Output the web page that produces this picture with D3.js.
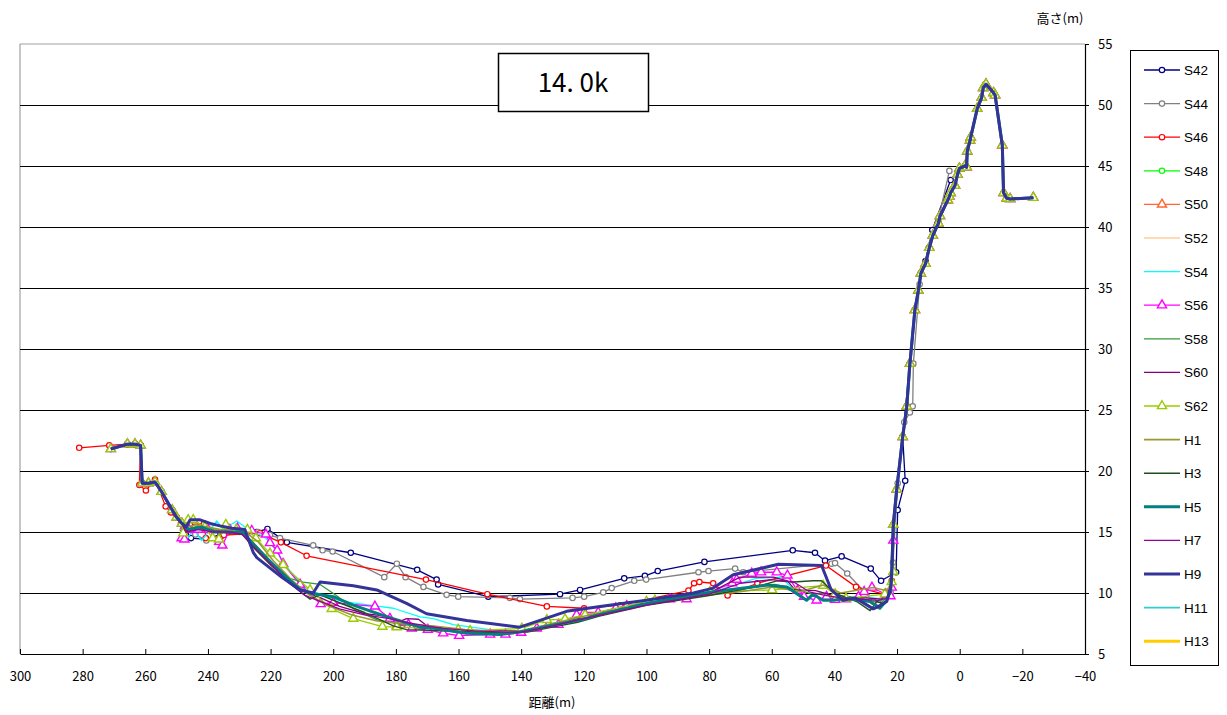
<!DOCTYPE html>
<html>
<head>
<meta charset="utf-8">
<script src="https://cdn.jsdelivr.net/npm/d3@7"></script>
<style>
  body { margin: 0; background: #fff; }
  svg { display: block; }
</style>
</head>
<body>
<svg id="chart" width="1227" height="715"></svg>
<script>
// Cross-section survey profiles at 14.0k: [distance (m), elevation (m)]

// Shared left-bank survey points (271 m → 248 m)
const leftBank = [[271.0,21.8],[265.7,22.2],[263.3,22.2],[261.5,22.1],[261.0,19.0],[259.0,19.0],[256.9,19.1],[254.8,18.3],[251.4,16.8],[250.0,16.2],[248.3,15.7]];

// Shared right-bank / levee survey points (toe → crest → landside)
const rightBank = [[21.2,15.6],[20.1,18.5],[18.2,22.8],[16.9,25.3],[15.9,28.8],[14.3,33.2],[13.2,34.8],[12.4,36.2],[10.9,37.0],[9.7,38.3],[8.6,39.3],[6.8,40.3],[6.3,40.9],[3.8,42.2],[3.3,42.5],[2.9,42.8],[1.5,43.4],[0.7,44.3],[0.1,44.8],[-1.7,45.0],[-2.2,44.9],[-2.4,46.2],[-3.3,47.1],[-3.5,47.35],[-5.6,49.7],[-7.0,50.6],[-7.5,51.4],[-8.4,51.7],[-10.8,51.0],[-11.3,50.8],[-13.6,46.7],[-14.0,42.8],[-15.0,42.35],[-16.1,42.3],[-23.5,42.4]];

const s42 = [[245.4,14.5],[240.5,14.4],[236.0,14.8],[229.0,15.0],[224.5,15.0],[221.0,15.25],[214.8,14.15],[194.4,13.3],[173.2,11.9],[167.0,11.1],[166.5,10.7],[150.5,9.7],[127.6,9.9],[121.2,10.25],[107.1,11.2],[100.5,11.4],[96.4,11.8],[81.5,12.55],[53.3,13.5],[46.2,13.3],[43.0,12.65],[37.7,13.0],[28.4,12.0],[25.1,11.0],[20.3,11.7],[19.8,16.8],[17.4,19.2],[18.2,22.8],[15.9,28.8],[14.3,33.2],[12.4,36.2],[10.9,37.2],[8.75,39.75],[2.9,43.85],[0.1,44.8]];

const s44 = [[248.0,15.2],[244.0,14.8],[240.5,14.3],[236.0,14.6],[230.0,15.0],[224.0,15.0],[220.2,14.75],[217.0,14.5],[206.4,13.9],[203.4,13.5],[200.2,13.4],[183.7,11.3],[179.7,12.4],[176.9,11.3],[171.2,10.5],[163.8,9.85],[160.1,9.7],[143.6,9.6],[140.4,9.5],[123.6,9.6],[119.9,9.7],[113.8,10.05],[111.1,10.4],[103.9,11.0],[100.1,11.1],[83.4,11.7],[80.2,11.8],[71.7,12.0],[69.1,11.7],[40.9,12.4],[39.8,12.45],[35.9,11.6],[27.6,9.3],[26.0,9.2],[22.0,10.0],[21.3,12.5],[19.8,19.0],[17.7,24.0],[15.9,24.8],[15.0,25.3],[14.8,28.8],[12.8,35.3],[9.9,38.3],[6.8,40.6],[3.3,44.6]];

const s46 = [[281.1,21.9],[271.5,22.1],[265.7,22.2],[263.3,22.2],[261.5,22.1],[261.9,18.85],[259.8,18.4],[256.9,19.3],[253.5,17.1],[251.8,16.6],[248.6,15.7],[245.8,15.6],[241.2,15.7],[240.7,14.5],[236.0,14.6],[234.9,14.75],[223.4,14.9],[216.7,14.15],[208.5,13.05],[170.4,11.1],[150.8,9.9],[131.8,8.9],[119.9,8.75],[108.4,9.0],[86.6,10.2],[84.8,10.8],[83.1,10.9],[78.7,10.8],[74.1,9.8],[64.6,10.8],[42.7,12.25],[33.1,10.5],[23.3,9.85],[21.7,11.0],[21.2,15.6],[20.1,18.5],[18.2,22.8],[16.9,25.3],[15.9,28.8],[14.3,33.2],[13.2,34.8],[12.4,36.2],[10.9,37.0],[9.7,38.3],[8.6,39.3],[6.8,40.3],[3.8,42.2],[1.5,43.4],[0.1,44.8],[-1.7,45.0],[-2.4,46.2],[-3.3,47.1]];

const s54 = [[246.8,14.3],[244.7,15.25],[242.0,14.3],[237.2,15.9],[235.1,15.2],[230.8,15.9],[227.1,15.2],[222.0,14.6],[219.1,13.8],[214.9,12.15],[209.6,10.5],[204.2,9.85],[196.8,9.3],[188.3,9.0],[180.8,8.75],[172.3,8.05],[168.0,7.9],[161.7,7.4],[150.0,7.0],[140.0,6.9],[130.0,7.5],[120.0,8.1],[100.0,9.2],[80.0,10.0],[65.0,11.2],[57.0,11.3],[52.0,10.0],[48.0,9.6],[45.7,9.2],[42.0,9.6],[36.0,9.6],[28.0,9.6],[24.0,9.5],[22.0,10.2],[21.5,12.0]];

const s56 = [[248.4,14.5],[247.5,14.4],[246.0,15.2],[243.0,15.2],[239.9,15.2],[236.4,14.2],[235.4,13.9],[233.0,15.2],[230.6,15.3],[226.0,15.1],[221.5,14.8],[220.2,14.1],[217.9,13.5],[216.0,12.4],[210.6,10.7],[204.0,9.1],[200.0,9.2],[186.7,8.9],[181.9,7.9],[179.7,7.3],[176.0,7.4],[174.9,7.1],[169.8,7.0],[164.9,6.7],[159.8,6.5],[149.9,6.6],[145.0,6.6],[140.0,6.75],[135.0,7.1],[131.3,7.4],[128.1,7.4],[122.3,8.2],[119.9,8.4],[115.4,8.4],[109.8,8.75],[106.3,8.95],[92.5,9.5],[87.2,9.5],[78.1,10.25],[72.6,10.8],[71.2,11.1],[66.4,11.6],[63.4,11.7],[58.4,11.7],[55.0,11.45],[51.8,10.2],[49.7,9.7],[45.7,9.4],[42.5,9.7],[39.8,9.45],[36.3,9.5],[32.3,9.7],[30.5,10.1],[28.0,10.45],[23.6,9.9],[22.1,9.75],[21.7,10.45],[21.2,14.3]];

const s58 = [[247.0,15.2],[243.0,15.5],[238.0,15.2],[233.0,15.1],[229.0,15.0],[225.0,14.0],[220.0,12.6],[214.0,11.2],[209.6,10.9],[204.2,10.7],[199.0,9.8],[193.0,8.6],[186.0,7.8],[178.0,7.4],[168.0,7.2],[158.0,6.9],[148.0,6.8],[140.0,6.9],[130.0,7.4],[120.0,8.0],[100.0,9.1],[80.0,9.9],[68.0,10.4],[59.0,10.7],[52.0,10.3],[47.0,9.9],[44.0,10.0],[40.0,9.8],[35.0,9.7],[29.0,9.4],[25.0,9.2],[22.0,10.1],[21.5,12.0]];

const s60 = [[247.0,15.1],[243.0,15.3],[238.0,15.0],[233.0,15.0],[229.0,14.9],[225.0,13.8],[220.0,12.5],[214.0,11.0],[209.0,10.1],[204.0,9.6],[198.0,8.9],[190.0,8.3],[183.0,8.1],[178.5,7.7],[176.6,7.9],[172.8,7.85],[170.0,7.3],[160.0,7.0],[150.0,6.9],[140.0,6.9],[130.0,7.4],[120.0,8.0],[100.0,9.1],[80.0,10.0],[70.1,11.3],[59.5,11.3],[55.0,11.0],[52.6,10.25],[46.0,10.2],[42.0,9.9],[36.0,9.6],[30.0,9.6],[25.0,9.5],[22.0,10.2],[21.5,12.0]];

const s62 = [[247.9,14.9],[246.3,16.0],[244.7,16.0],[241.0,15.4],[238.5,14.5],[236.5,14.4],[234.3,15.6],[231.0,15.2],[227.4,15.2],[224.7,14.5],[220.2,13.25],[216.0,12.3],[207.4,10.25],[200.5,8.7],[193.6,7.9],[184.3,7.25],[179.7,7.2],[160.1,7.0],[156.3,6.9],[139.8,7.1],[131.8,7.8],[126.0,7.85],[119.6,8.2],[100.0,9.3],[97.3,9.4],[79.7,10.1],[59.9,10.25],[43.6,10.6],[39.8,9.9],[36.3,9.55],[23.9,9.9],[21.7,10.9],[21.2,11.75]];

const h1 = [[247.5,15.3],[244.0,15.6],[240.0,15.4],[236.0,15.2],[232.0,15.2],[228.0,15.0],[224.0,14.2],[219.0,12.6],[213.0,11.0],[208.0,9.9],[202.0,9.0],[194.0,8.2],[186.0,7.7],[178.0,7.5],[168.0,7.3],[158.0,7.0],[148.0,6.8],[140.0,6.9],[130.0,7.5],[120.0,8.1],[100.0,9.1],[85.0,9.7],[70.1,10.1],[59.5,10.5],[51.0,10.1],[43.6,10.65],[38.0,10.0],[27.6,10.45],[24.4,10.25],[22.0,10.3],[21.5,12.0]];

const h3 = [[247.0,15.0],[243.0,15.3],[238.0,15.1],[233.0,15.0],[229.0,14.8],[225.0,13.6],[220.0,12.3],[214.0,10.9],[210.0,10.0],[207.4,9.5],[204.2,9.85],[198.0,9.2],[190.0,8.4],[180.8,7.3],[176.6,7.0],[165.0,6.9],[155.0,6.8],[145.0,6.7],[138.0,6.8],[130.0,7.2],[122.0,7.6],[115.0,8.1],[100.0,9.0],[80.0,9.8],[65.0,10.5],[58.4,11.0],[53.1,10.9],[46.8,11.0],[44.1,11.0],[40.0,10.0],[36.0,9.6],[32.9,9.3],[28.6,8.55],[26.5,9.3],[24.0,9.1],[22.0,10.0],[21.5,12.0]];

const h5 = [[246.0,15.2],[242.0,15.4],[238.0,15.0],[234.0,15.0],[229.0,15.0],[225.5,14.0],[221.0,12.8],[215.0,11.3],[210.6,10.3],[207.4,10.0],[200.0,9.7],[193.6,9.0],[182.9,8.05],[172.3,7.2],[168.0,7.1],[157.4,6.7],[146.8,6.6],[140.4,6.8],[131.2,7.3],[120.2,7.85],[114.8,8.25],[100.0,9.15],[78.7,10.1],[61.6,10.65],[55.2,10.5],[48.9,9.4],[46.8,9.9],[43.6,9.4],[40.4,9.4],[36.1,9.55],[28.6,9.3],[25.5,8.75],[23.3,9.4],[22.0,10.3],[21.7,11.7]];

const h7 = [[247.0,15.0],[243.0,15.2],[238.0,15.0],[233.0,15.0],[229.0,14.8],[225.0,13.7],[220.0,12.4],[214.0,10.8],[209.0,9.8],[204.0,9.3],[198.0,8.7],[190.0,8.2],[182.0,7.9],[175.0,7.5],[165.0,7.1],[155.0,6.9],[145.0,6.8],[140.0,6.8],[130.0,7.3],[120.0,7.9],[100.0,9.0],[80.0,9.9],[70.0,10.8],[60.0,11.1],[53.0,10.9],[48.0,10.1],[43.0,9.8],[38.0,9.6],[32.0,9.5],[26.0,9.4],[23.0,9.6],[22.0,10.3],[21.5,12.0]];

const h9 = [[247.0,15.4],[245.7,16.0],[242.5,16.0],[239.3,15.7],[236.1,15.5],[232.3,15.3],[228.2,15.2],[227.6,14.75],[225.5,13.3],[224.4,12.9],[216.5,11.3],[210.6,10.25],[206.4,10.0],[204.2,10.9],[193.6,10.6],[186.1,10.25],[176.6,9.15],[170.2,8.3],[157.4,7.75],[140.4,7.2],[125.5,8.5],[114.8,8.9],[100.0,9.4],[85.0,10.0],[78.7,10.4],[72.3,11.5],[57.9,12.35],[44.1,12.25],[41.0,10.25],[37.2,9.4],[33.4,9.6],[27.6,8.7],[25.5,8.95],[23.3,9.3],[22.0,10.5],[21.7,11.7]];

const seriesNames = ["S42","S44","S46","S48","S50","S52","S54","S56","S58","S60","S62","H1","H3","H5","H7","H9","H11","H13"];

// Full profile of every survey year
const profiles = {
  S42: [...leftBank, ...s42],
  S44: [...leftBank, ...s44],
  S46: s46,
  S48: rightBank,
  S50: rightBank,
  S52: rightBank,
  S54: [...leftBank, ...s54, ...rightBank],
  S56: [...leftBank, ...s56, ...rightBank],
  S58: [...leftBank, ...s58, ...rightBank],
  S60: [...leftBank, ...s60, ...rightBank],
  S62: [...leftBank, ...s62, ...rightBank],
  H1:  [...leftBank, ...h1, ...rightBank],
  H3:  [...leftBank, ...h3, ...rightBank],
  H5:  [...leftBank, ...h5, ...rightBank],
  H7:  [...leftBank, ...h7, ...rightBank],
  H9:  [...leftBank, ...h9, ...rightBank],
  H11: [],
  H13: []
};

const xTicks = [300,280,260,240,220,200,180,160,140,120,100,80,60,40,20,0,-20,-40];
const yTicks = [5,10,15,20,25,30,35,40,45,50,55];

// Line / marker style per series
const styles = {
  S42: {color:"#000080", width:1.3, marker:"circle"},
  S44: {color:"#808080", width:1.3, marker:"circle"},
  S46: {color:"#FF0000", width:1.3, marker:"circle"},
  S48: {color:"#00FF00", width:1.3, marker:"circle"},
  S50: {color:"#FF6633", width:1.3, marker:"triangle"},
  S52: {color:"#FFCC99", width:1.3, marker:null},
  S54: {color:"#00FFFF", width:1.3, marker:null},
  S56: {color:"#FF00FF", width:1.3, marker:"triangle"},
  S58: {color:"#339933", width:1.3, marker:null},
  S60: {color:"#800080", width:1.3, marker:null},
  S62: {color:"#99CC00", width:1.3, marker:"triangle"},
  H1:  {color:"#999933", width:1.6, marker:null},
  H3:  {color:"#1F4F1F", width:1.4, marker:null},
  H5:  {color:"#008080", width:3,   marker:null},
  H7:  {color:"#990099", width:1.3, marker:null},
  H9:  {color:"#333399", width:3,   marker:null},
  H11: {color:"#33CCCC", width:1.6, marker:null},
  H13: {color:"#FFCC00", width:3,   marker:null}
};

const svg = d3.select("#chart");
const plotL = 20, plotR = 1085, plotT = 44, plotB = 654;

const x = d3.scaleLinear().domain([300, -40]).range([plotL, plotR]);
const y = d3.scaleLinear().domain([5, 55]).range([plotB, plotT]);

// Plot frame and gridlines
svg.append("line").attr("x1", plotL).attr("x2", plotR).attr("y1", plotT).attr("y2", plotT)
  .attr("stroke", "#a0a0a0").attr("stroke-width", 1.2);
svg.append("line").attr("x1", plotL).attr("x2", plotL).attr("y1", plotT).attr("y2", plotB)
  .attr("stroke", "#a0a0a0").attr("stroke-width", 1.2);
svg.append("g").selectAll("line")
  .data(yTicks.filter(v => v > 5 && v < 55))
  .join("line")
  .attr("x1", plotL).attr("x2", plotR)
  .attr("y1", d => Math.round(y(d)) + 0.5).attr("y2", d => Math.round(y(d)) + 0.5)
  .attr("stroke", "#000").attr("stroke-width", 1);

// Axes
const tickFont = "'Noto Sans CJK JP', 'DejaVu Sans', sans-serif";
const xAxis = svg.append("g").attr("transform", `translate(0,${plotB})`)
  .call(d3.axisBottom(x).tickValues(xTicks).tickFormat(d3.format("d")).tickSize(-5).tickSizeOuter(0).tickPadding(18));
const yAxis = svg.append("g").attr("transform", `translate(${plotR},0)`)
  .call(d3.axisRight(y).tickValues(yTicks).tickSize(4).tickSizeOuter(0).tickPadding(9));
[xAxis, yAxis].forEach(g => {
  g.select(".domain").attr("stroke", "#000").attr("stroke-width", 1.2);
  g.selectAll(".tick line").attr("stroke", "#000");
  g.selectAll("text").attr("font-family", tickFont).attr("font-size", 13).attr("fill", "#000");
});

// Axis titles
svg.append("text").attr("x", 552).attr("y", 707).attr("text-anchor", "middle")
  .attr("font-family", tickFont).attr("font-size", 13).text("距離(m)");
svg.append("text").attr("x", 1060).attr("y", 23).attr("text-anchor", "middle")
  .attr("font-family", tickFont).attr("font-size", 13).text("高さ(m)");

// Profile lines and markers
const line = d3.line().x(d => x(d[0])).y(d => y(d[1]));
const triangle = d3.symbol().type(d3.symbolTriangle).size(36);
const plot = svg.append("g");

function drawMarker(sel, kind, color) {
  if (kind === "circle") {
    sel.append("circle").attr("r", 2.7).attr("fill", "#fff").attr("stroke", color).attr("stroke-width", 1.2);
  } else if (kind === "triangle") {
    sel.append("path").attr("d", triangle()).attr("fill", "#fff").attr("stroke", color).attr("stroke-width", 1.4);
  }
}

seriesNames.forEach(name => {
  const data = profiles[name];
  const st = styles[name];
  if (!data.length) return;
  const g = plot.append("g");
  g.append("path").datum(data).attr("d", line)
    .attr("fill", "none").attr("stroke", st.color).attr("stroke-width", st.width)
    .attr("stroke-linejoin", "round");
  if (st.marker) {
    g.selectAll("g.m").data(data).join("g").attr("class", "m")
      .attr("transform", d => `translate(${x(d[0])},${y(d[1])})`)
      .each(function () { drawMarker(d3.select(this), st.marker, st.color); });
  }
});

// Title box
svg.append("rect").attr("x", 498.5).attr("y", 53.5).attr("width", 150).attr("height", 58)
  .attr("fill", "#fff").attr("stroke", "#000").attr("stroke-width", 1.5);
svg.append("text").attr("x", 573).attr("y", 92).attr("text-anchor", "middle")
  .attr("font-family", tickFont).attr("font-size", 26).text("14. 0k");

// Legend
const legend = svg.append("g");
legend.append("rect").attr("x", 1130.5).attr("y", 50.5).attr("width", 88).attr("height", 615)
  .attr("fill", "#fff").attr("stroke", "#000").attr("stroke-width", 1);
seriesNames.forEach((name, i) => {
  const st = styles[name];
  const cy = 70 + i * 33.6;
  const item = legend.append("g");
  item.append("line").attr("x1", 1144).attr("x2", 1180).attr("y1", cy).attr("y2", cy)
    .attr("stroke", st.color).attr("stroke-width", st.width);
  if (st.marker) {
    drawMarker(item.append("g").attr("transform", `translate(1162,${cy})`), st.marker, st.color);
  }
  item.append("text").attr("x", 1184).attr("y", cy + 5)
    .attr("font-family", "'Liberation Sans', Arial, sans-serif").attr("font-size", 13.5)
    .text(name);
});
</script>
</body>
</html>
